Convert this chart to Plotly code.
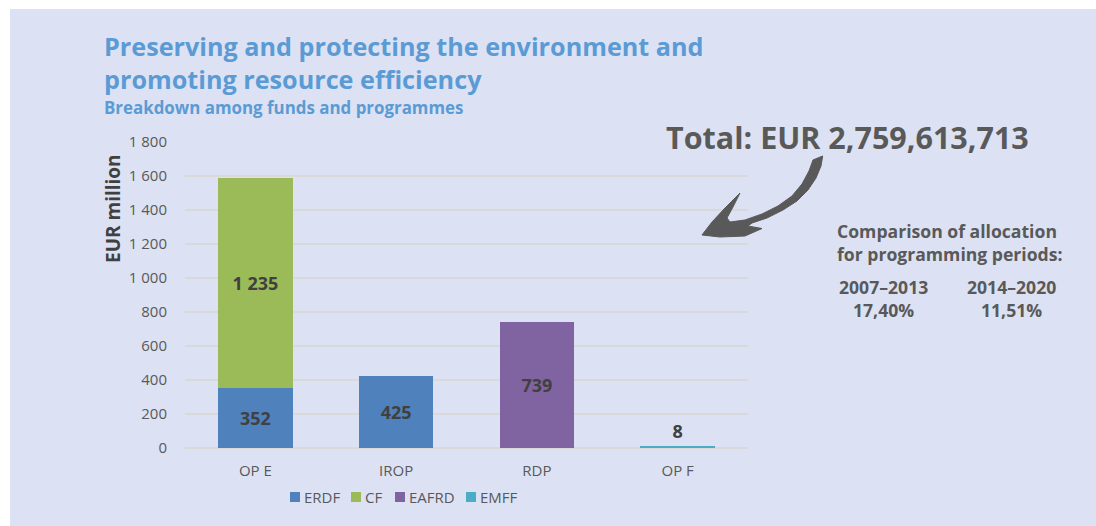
import plotly.graph_objects as go

# ---------------- data ----------------
categories = ["OP E", "IROP", "RDP", "OP F"]
erdf = [352, 425, None, None]
cf = [1235, None, None, None]
eafrd = [None, None, 739, None]
emff = [None, None, None, 8]
series_names = ["ERDF", "CF", "EAFRD", "EMFF"]
series_colors = ["#4F81BD", "#9BBB59", "#8064A2", "#4BACC6"]
y_ticks = [0, 200, 400, 600, 800, 1000, 1200, 1400, 1600, 1800]
y_ticktext = ["0", "200", "400", "600", "800", "1 000", "1 200", "1 400", "1 600", "1 800"]

W, H = 1096, 526
ML, MR, MT, MB = 185, 348, 142, 78
PW, PH = W - ML - MR, H - MT - MB
BG = "#DCE2F3"
FONT = "Open Sans"


def px(x):
    return (x - ML) / PW


def py(y):
    return (H - MB - y) / PH


def fmt(v):
    return f"{v:,}".replace(",", " ")


fig = go.Figure()
for name, vals, col in zip(series_names, [erdf, cf, eafrd, emff], series_colors):
    texts = [fmt(v) if v is not None else "" for v in vals]
    fig.add_trace(go.Bar(
        x=categories, y=vals, name=name, marker_color=col,
        marker_line_width=0,
        text=texts,
        textposition="outside" if name == "EMFF" else "inside",
        insidetextanchor="middle",
        textfont=dict(family=FONT, size=18, color="#404040", weight="bold"),
        cliponaxis=False,
        showlegend=False,
    ))

shapes = []
annotations = []

# white strips outside the panel
shapes.append(dict(type="rect", xref="paper", yref="paper",
                   x0=px(0), x1=px(W), y0=py(9), y1=py(0),
                   fillcolor="white", line_width=0, layer="below"))
shapes.append(dict(type="rect", xref="paper", yref="paper",
                   x0=px(0), x1=px(10), y0=py(H), y1=py(0),
                   fillcolor="white", line_width=0, layer="below"))

# manual legend
leg_x = [290, 351, 395, 466]
for name, col, lx in zip(series_names, series_colors, leg_x):
    shapes.append(dict(type="rect", xref="paper", yref="paper",
                       x0=px(lx), x1=px(lx + 10), y0=py(502), y1=py(492),
                       fillcolor=col, line_width=0))
    annotations.append(dict(xref="paper", yref="paper", x=px(lx + 12), y=py(497),
                            text=name, showarrow=False, xanchor="left", yanchor="middle",
                            font=dict(family=FONT, size=15, color="#595959")))

# curved arrow
arrow_pts = [
    (822.7, 156), (821, 166), (816, 178), (808, 190), (797, 201), (783, 210),
    (767, 218), (752, 223), (748, 226), (762, 228.5), (745, 236), (720, 237),
    (702, 235), (712, 222), (725, 208), (740, 193), (733, 207), (727, 218),
    (730, 222), (745, 220), (762, 214), (778, 206), (792, 196), (802, 184),
    (809, 171), (813, 160),
]
path = "M " + " L ".join(f"{px(a):.5f},{py(b):.5f}" for a, b in arrow_pts) + " Z"
shapes.append(dict(type="path", xref="paper", yref="paper", path=path,
                   fillcolor="#595959", line=dict(color="#595959", width=1)))


def label(text, x, y, size, color="#595959", anchor="left", **kw):
    annotations.append(dict(xref="paper", yref="paper", x=px(x), y=py(y),
                            xanchor=anchor, yanchor="middle", text=text, showarrow=False,
                            font=dict(family=FONT, size=size, color=color, weight="bold"), **kw))


TITLE_BLUE = "#5B9BD5"
label("Preserving and protecting the environment and", 102, 46, 25.2, TITLE_BLUE)
label("promoting resource efficiency", 102, 79, 25.2, TITLE_BLUE)
label("Breakdown among funds and programmes", 102, 108, 16.9, TITLE_BLUE)
label("EUR million", 113, 209, 19, "#404040", anchor="center", textangle=-90)
label("Total: EUR 2,759,613,713", 847, 137, 30.5, "#595959", anchor="center")
label("Comparison of allocation", 835, 230.5, 17.6)
label("for programming periods:", 835, 253.5, 17.6)
label("2007–2013", 883, 287, 17.6, anchor="center")
label("17,40%", 883, 310, 17.6, anchor="center")
label("2014–2020", 1011, 287, 17.6, anchor="center")
label("11,51%", 1011, 310, 17.6, anchor="center")

fig.update_layout(
    width=W, height=H, autosize=False,
    margin=dict(l=ML, r=MR, t=MT, b=MB, pad=0),
    paper_bgcolor=BG, plot_bgcolor="rgba(0,0,0,0)",
    barmode="stack", bargap=0.47,
    font=dict(family=FONT, color="#595959"),
    showlegend=False,
    shapes=shapes, annotations=annotations,
)
fig.update_yaxes(range=[0, 1800], tickvals=y_ticks, ticktext=y_ticktext,
                 showgrid=True, gridcolor="#D9D9D9", gridwidth=1.5,
                 zeroline=True, zerolinecolor="#D9D9D9", zerolinewidth=2,
                 showline=False, ticks="", ticklabelstandoff=17,
                 tickfont=dict(family=FONT, size=15, color="#595959"))
fig.update_xaxes(showgrid=False, showline=False, ticks="", ticklabelstandoff=12,
                 tickfont=dict(family=FONT, size=15, color="#595959"))

fig.write_html("out.html", config={"displayModeBar": False},
               post_script="document.body.style.margin='0px';document.body.style.overflow='hidden';")
